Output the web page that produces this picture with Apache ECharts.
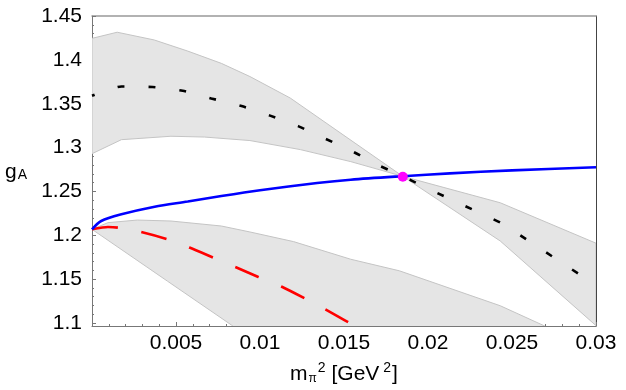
<!DOCTYPE html>
<html>
<head>
<meta charset="utf-8">
<script src="https://cdn.jsdelivr.net/npm/echarts@6/dist/echarts.min.js"></script>
<style>
  html, body { margin: 0; padding: 0; background: #fff; }
  #chart { width: 626px; height: 390px; }
</style>
</head>
<body>
<div id="chart"></div>
<script>
// 坐标轴刻度
const xTicks = [0, 0.005, 0.01, 0.015, 0.02, 0.025, 0.03];
const yTicks = [1.1, 1.15, 1.2, 1.25, 1.3, 1.35, 1.4, 1.45];
const yMin = 1.0966;
const yMax = 1.45;

// 黑色虚线 (中心值)
const blackX = [0, 0.00175, 0.0036, 0.0054, 0.0071, 0.0089, 0.0106, 0.0123, 0.0139, 0.0156, 0.0171, 0.0185, 0.0204, 0.022, 0.0237, 0.0245, 0.026, 0.0275, 0.029, 0.03];
const blackY = [1.359, 1.3697, 1.369, 1.3648, 1.356, 1.3474, 1.3364, 1.3242, 1.310, 1.2947, 1.2795, 1.2672, 1.2496, 1.2352, 1.220, 1.2125, 1.1935, 1.1746, 1.1557, 1.143];

// 黑色误差带的两条边界 (在交点处交叉)
const bandAX = [0, 0.0015, 0.0037, 0.0057, 0.0077, 0.0094, 0.0118, 0.0185, 0.0243, 0.03];
const bandAY = [1.4245, 1.4315, 1.4227, 1.410, 1.396, 1.381, 1.3565, 1.2672, 1.1935, 1.097];
const bandBX = [0, 0.00175, 0.0047, 0.0067, 0.0094, 0.0124, 0.0154, 0.0185, 0.0243, 0.03];
const bandBY = [1.293, 1.309, 1.3129, 1.312, 1.308, 1.2977, 1.284, 1.2672, 1.2371, 1.191];

// 红色虚线
const redX = [0, 0.00095, 0.00155, 0.0029, 0.00446, 0.0058, 0.0072, 0.0086, 0.0099, 0.0113, 0.0132, 0.0145, 0.0156, 0.0162];
const redY = [1.2068, 1.2095, 1.2087, 1.2038, 1.1955, 1.186, 1.1747, 1.1633, 1.1525, 1.1413, 1.1227, 1.109, 1.097, 1.09];

// 红色误差带
const redUpX = [0, 0.00095, 0.0027, 0.0047, 0.0077, 0.0094, 0.012, 0.0154, 0.0183, 0.0243, 0.0269, 0.0275];
const redUpY = [1.2068, 1.2144, 1.2174, 1.2163, 1.2106, 1.2038, 1.1928, 1.1727, 1.1595, 1.1197, 1.097, 1.09];
const redLoX = [0, 0.0045, 0.0083, 0.0088];
const redLoY = [1.2068, 1.1476, 1.0977, 1.09];

// 蓝色实线
const blueX = [0, 0.00055, 0.00175, 0.00373, 0.0057, 0.0077, 0.01, 0.0134, 0.0154, 0.0185, 0.0213, 0.025, 0.03];
const blueY = [1.2068, 1.2163, 1.2239, 1.2326, 1.2385, 1.2448, 1.2514, 1.2596, 1.2634, 1.2674, 1.2706, 1.274, 1.2775];

// 交点
const crossPoint = [0.0185, 1.2667];

const pairs = (xs, ys) => xs.map((x, i) => [x, ys[i]]);

// 小刻度
const yMinor = [];
for (let v = 110; v <= 145; v++) yMinor.push(v / 100);

const chart = echarts.init(document.getElementById('chart'));
const font = "'Liberation Sans', Arial, Helvetica, sans-serif";
const axisColor = '#777';

function bandSeries(upper, lower) {
    return {
        type: 'custom',
        clip: true,
        silent: true,
        data: [[0, 1.2]],
        renderItem: (params, api) => {
            const pts = upper.map(p => api.coord(p))
                .concat(lower.slice().reverse().map(p => api.coord(p)));
            return {
                type: 'polygon',
                shape: { points: pts },
                style: { fill: '#e5e5e5', stroke: '#c4c4c4', lineWidth: 1 }
            };
        }
    };
}

const option = {
    animation: false,
    grid: { left: 92, right: 30, top: 16, bottom: 63 },
    graphic: [{
        type: 'text',
        left: 5,
        top: 162,
        style: {
            text: '{g|g}{s|A}',
            rich: {
                g: { fontSize: 21, fontFamily: font, fill: '#000' },
                s: { fontSize: 14, fontFamily: font, fill: '#000', padding: [6, 0, 0, 1] }
            }
        }
    }],
    xAxis: [{
        type: 'value',
        min: 0,
        max: 0.03,
        interval: 0.005,
        name: '{m|m}{sub|π}{sup|2}{m| [GeV}{sup2|2}{m|]}',
        nameLocation: 'middle',
        nameGap: 35,
        nameTextStyle: {
            rich: {
                m: { fontSize: 21, fontFamily: font, color: '#000' },
                sub: { fontSize: 12, fontFamily: font, color: '#000', padding: [10, 0, 0, 1] },
                sup: { fontSize: 14, fontFamily: font, color: '#000', padding: [0, 0, 12, 1] },
                sup2: { fontSize: 14, fontFamily: font, color: '#000', padding: [0, 1, 12, 4] }
            }
        },
        axisLine: { onZero: false, lineStyle: { color: axisColor, width: 1 } },
        axisTick: { inside: true, length: 4, lineStyle: { color: axisColor } },
        minorTick: { show: true, splitNumber: 5, length: 2, lineStyle: { color: axisColor } },
        splitLine: { show: false },
        axisLabel: {
            margin: 7,
            fontSize: 21,
            fontFamily: font,
            color: '#000',
            formatter: v => (v === 0 ? '' : String(+v.toFixed(4)))
        }
    }, {
        type: 'value',
        position: 'top',
        min: 0,
        max: 0.03,
        axisLine: { onZero: false, lineStyle: { color: '#999', width: 1.5 } },
        axisTick: { show: false },
        axisLabel: { show: false },
        splitLine: { show: false }
    }],
    yAxis: [{
        type: 'value',
        min: yMin,
        max: yMax,
        axisLine: { onZero: false, lineStyle: { color: axisColor, width: 1 } },
        axisTick: { inside: true, length: 4, customValues: yTicks, lineStyle: { color: axisColor } },
        splitLine: { show: false },
        axisLabel: {
            customValues: yTicks,
            margin: 10,
            fontSize: 21,
            fontFamily: font,
            color: '#000',
            formatter: v => String(+v.toFixed(2))
        }
    }, {
        type: 'value',
        position: 'left',
        min: yMin,
        max: yMax,
        axisLine: { show: false },
        axisTick: { inside: true, length: 2, customValues: yMinor, lineStyle: { color: axisColor } },
        axisLabel: { show: false },
        splitLine: { show: false }
    }, {
        type: 'value',
        position: 'right',
        min: yMin,
        max: yMax,
        axisLine: { onZero: false, lineStyle: { color: '#444', width: 1 } },
        axisTick: { show: false },
        axisLabel: { show: false },
        splitLine: { show: false }
    }],
    series: [
        bandSeries(pairs(bandAX, bandAY), pairs(bandBX, bandBY)),
        bandSeries(pairs(redUpX, redUpY), pairs(redLoX, redLoY)),
        {
            type: 'line',
            data: pairs(blackX, blackY),
            symbol: 'none',
            smooth: 0.2,
            lineStyle: { color: '#000', width: 2.6, type: [7, 24], dashOffset: 4, cap: 'butt' }
        },
        {
            type: 'line',
            data: pairs(redX, redY),
            symbol: 'none',
            smooth: 0.2,
            lineStyle: { color: '#ff0000', width: 2.6, type: [26, 24], dashOffset: 0 }
        },
        {
            type: 'line',
            data: pairs(blueX, blueY),
            symbol: 'none',
            smooth: 0.3,
            lineStyle: { color: '#0000ff', width: 2.6 }
        },
        {
            type: 'scatter',
            data: [crossPoint],
            symbol: 'circle',
            symbolSize: 10,
            itemStyle: { color: '#ff00ff', opacity: 1 },
            z: 5
        }
    ]
};

chart.setOption(option);
</script>
</body>
</html>
